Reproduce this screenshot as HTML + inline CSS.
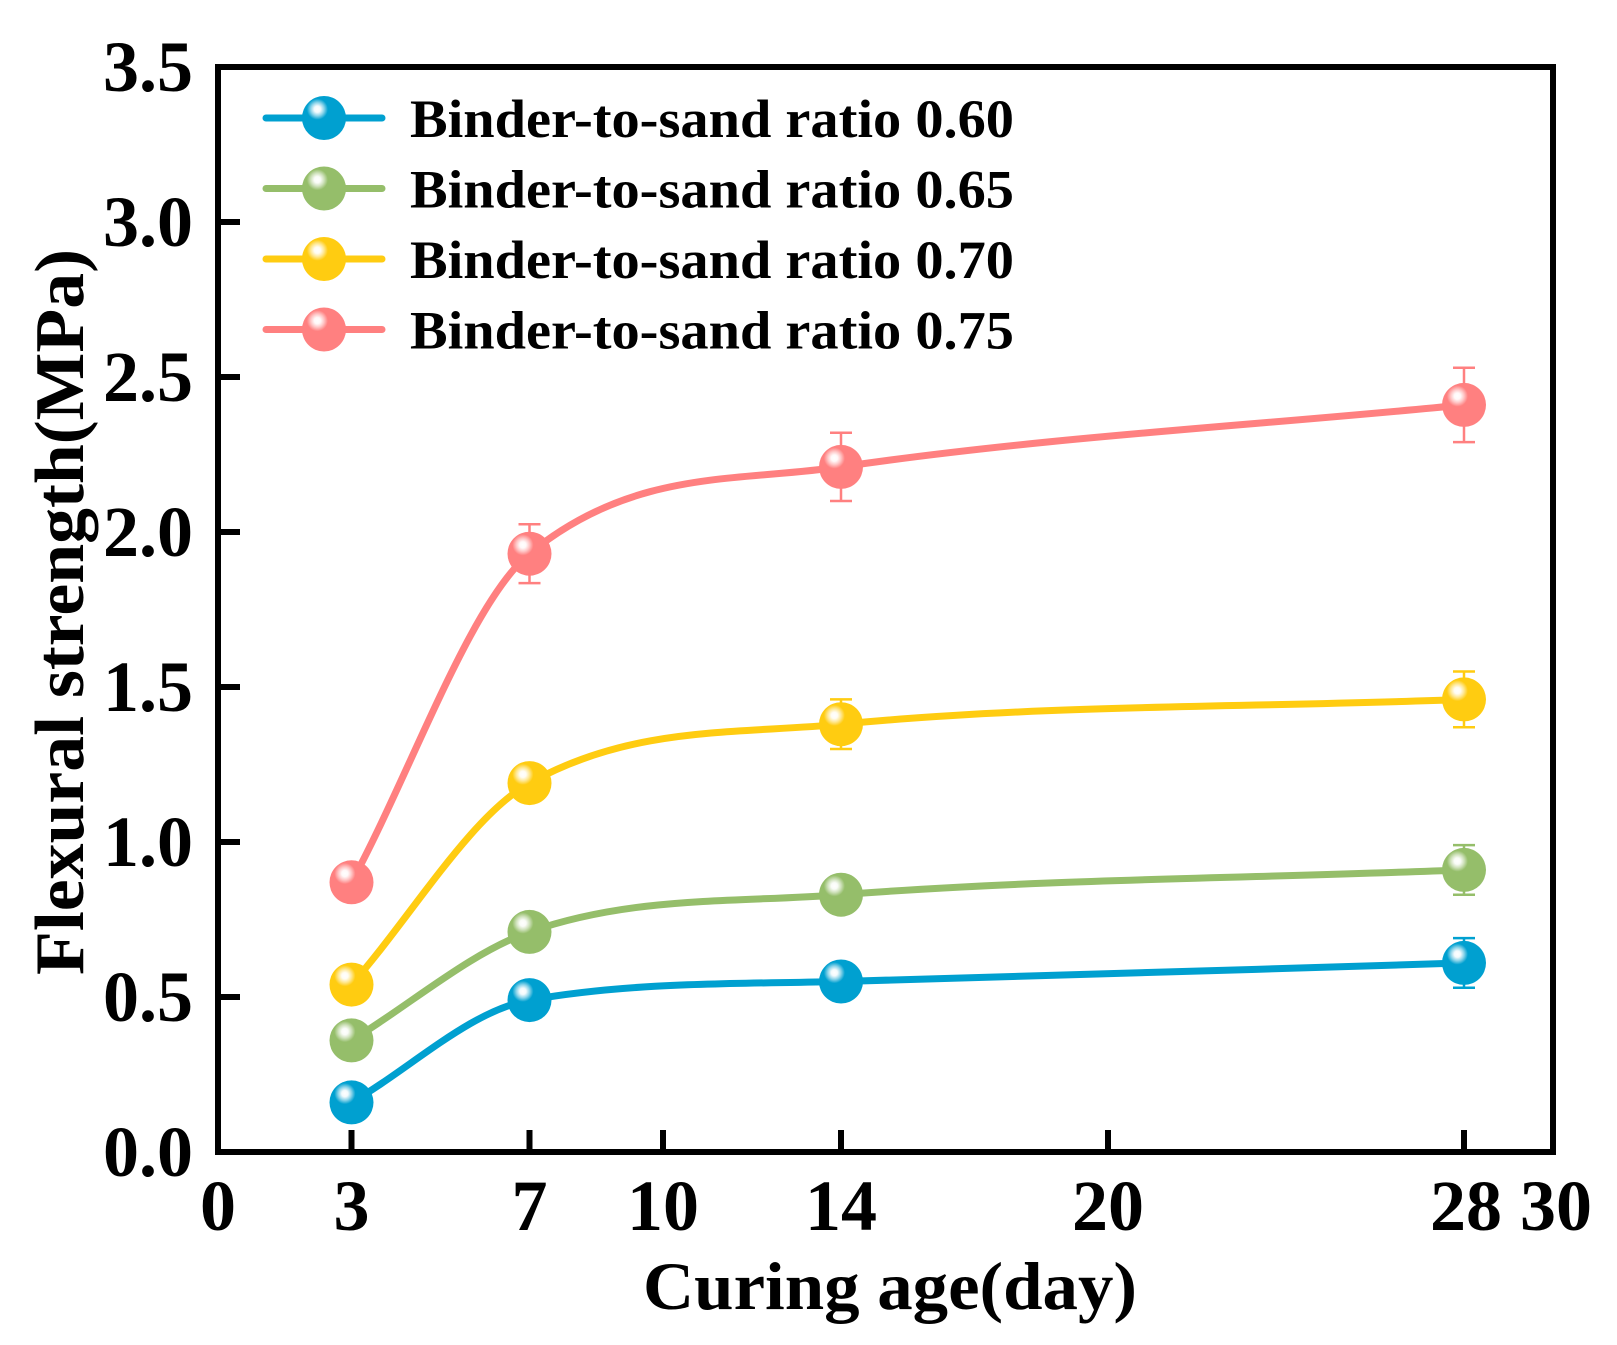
<!DOCTYPE html>
<html><head><meta charset="utf-8"><style>
html,body{margin:0;padding:0;background:#fff}
svg{display:block}
text{font-family:"Liberation Serif",serif;font-weight:bold;fill:#000}
</style></head><body>
<svg id="chart" width="1617" height="1345" viewBox="0 0 1617 1345">
<defs>
<radialGradient id="shine" cx="0.35" cy="0.3" r="0.6">
<stop offset="0" stop-color="#fff" stop-opacity="1"/>
<stop offset="0.12" stop-color="#fff" stop-opacity="0.95"/>
<stop offset="0.25" stop-color="#fff" stop-opacity="0.55"/>
<stop offset="0.4" stop-color="#fff" stop-opacity="0"/>
</radialGradient>
</defs>
<g id="plot"></g>
<g id="axes"></g>
<g id="legend"></g>
<text x="890" y="1309" text-anchor="middle" font-size="68" textLength="494" lengthAdjust="spacingAndGlyphs">Curing age(day)</text>
<text transform="translate(83,612) rotate(-90)" text-anchor="middle" font-size="70" textLength="726" lengthAdjust="spacingAndGlyphs">Flexural strength(MPa)</text>
</svg>
<script>
const ages = [3, 7, 14, 28];
const seriesNames = ["Binder-to-sand ratio 0.60","Binder-to-sand ratio 0.65","Binder-to-sand ratio 0.70","Binder-to-sand ratio 0.75"];
const ratio060 = [0.16, 0.49, 0.55, 0.61];
const ratio065 = [0.36, 0.71, 0.83, 0.91];
const ratio070 = [0.54, 1.19, 1.38, 1.46];
const ratio075 = [0.87, 1.93, 2.21, 2.41];
const err060 = [0.02, 0.02, 0.02, 0.08];
const err065 = [0.02, 0.02, 0.02, 0.08];
const err070 = [0.02, 0.02, 0.08, 0.09];
const err075 = [0.02, 0.095, 0.11, 0.12];
const xTicks = [0, 3, 7, 10, 14, 20, 28, 30];
const yTicks = ["0.0","0.5","1.0","1.5","2.0","2.5","3.0","3.5"];
const colors = ["#00A0D0","#95BE6A","#FFCC11","#FF8080"];

const NS="http://www.w3.org/2000/svg";
const L=218,R=1553,T=67,B=1152;
const xS=v=>L+(v-0)/(30-0)*(R-L);
const yS=v=>B-(v-0)/(3.5-0)*(B-T);
function mk(tag,attrs,parent){const e=document.createElementNS(NS,tag);for(const k in attrs)e.setAttribute(k,attrs[k]);parent.appendChild(e);return e;}

const axes=document.getElementById('axes');
const plot=document.getElementById('plot');
const legend=document.getElementById('legend');

const frame=mk('rect',{x:L,y:T,width:R-L,height:B-T,fill:'none',stroke:'#000','stroke-width':6},axes);



xTicks.forEach(t=>{
  const x=xS(t);
  if(t>0&&t<30){const tk=mk('line',{x1:x,x2:x,y1:B,y2:B-22,stroke:'#000','stroke-width':6},axes);
  
  }
  let xx=x;
  if(t===28){xx=x+2;} if(t===30){xx=x+3;}
  const tx=mk('text',{x:xx,y:1230,'text-anchor':'middle','font-size':72},axes);
  tx.textContent=t;
  
  
});
yTicks.forEach(s=>{
  const v=parseFloat(s),y=yS(v);
  if(v>0&&v<3.5){const tk=mk('line',{x1:L,x2:L+22,y1:y,y2:y,stroke:'#000','stroke-width':6},axes);
  
  }
  const tx=mk('text',{x:193,y:y+24,'text-anchor':'end','font-size':72},axes);
  tx.textContent=s;
  
  
});

function monotonePath(xs,ys){
  const n=xs.length,d=[],m=[];
  for(let i=0;i<n-1;i++)d.push((ys[i+1]-ys[i])/(xs[i+1]-xs[i]));
  m[0]=d[0];m[n-1]=d[n-2];
  for(let i=1;i<n-1;i++){m[i]=(d[i-1]*d[i]<=0)?0:(d[i-1]+d[i])/2;}
  for(let i=0;i<n-1;i++){if(d[i]===0){m[i]=m[i+1]=0;continue;}const a=m[i]/d[i],b=m[i+1]/d[i],s=a*a+b*b;if(s>9){const t=3/Math.sqrt(s);m[i]=t*a*d[i];m[i+1]=t*b*d[i];}}
  let p=`M${xs[0]},${ys[0]}`;
  for(let i=0;i<n-1;i++){const h=(xs[i+1]-xs[i])/3;p+=` C${xs[i]+h},${ys[i]+m[i]*h} ${xs[i+1]-h},${ys[i+1]-m[i+1]*h} ${xs[i+1]},${ys[i+1]}`;}
  return p;
}
function ball(cx,cy,col,parent,name){
  const g=mk('g',{},parent);
  
  
  mk('circle',{cx,cy,r:22,fill:col},g);
  mk('circle',{cx,cy,r:22,fill:'url(#shine)'},g);
  return g;
}
const allVals=[ratio060,ratio065,ratio070,ratio075];
const allErr=[err060,err065,err070,err075];
allVals.forEach((vals,si)=>{
  const col=colors[si];
  const g=mk('g',{},plot);
  
  
  const xs=ages.map(xS),ys=vals.map(yS);
  const path=mk('path',{d:monotonePath(xs,ys),fill:'none',stroke:col,'stroke-width':7,'stroke-linecap':'round'},g);
  
  
  vals.forEach((v,i)=>{
    const x=xS(ages[i]),e=allErr[si][i];
    const eb=mk('path',{d:`M${x},${yS(v+e)}V${yS(v-e)}M${x-11},${yS(v+e)}h22M${x-11},${yS(v-e)}h22`,stroke:col,'stroke-width':2.5,fill:'none'},g);
    
    
    ball(x,yS(v),col,g,'data-point');
  });
  const ly=118+si*70.5;
  const le=mk('g',{},legend);
  
  
  mk('line',{x1:266,x2:382,y1:ly,y2:ly,stroke:col,'stroke-width':7,'stroke-linecap':'round'},le);
  ball(324,ly,col,le,'legend-marker');
  const t=mk('text',{x:410,y:ly+19,'font-size':54,textLength:604,lengthAdjust:'spacingAndGlyphs'},le);
  t.textContent=seriesNames[si];
  
  
});
</script>
</body></html>
